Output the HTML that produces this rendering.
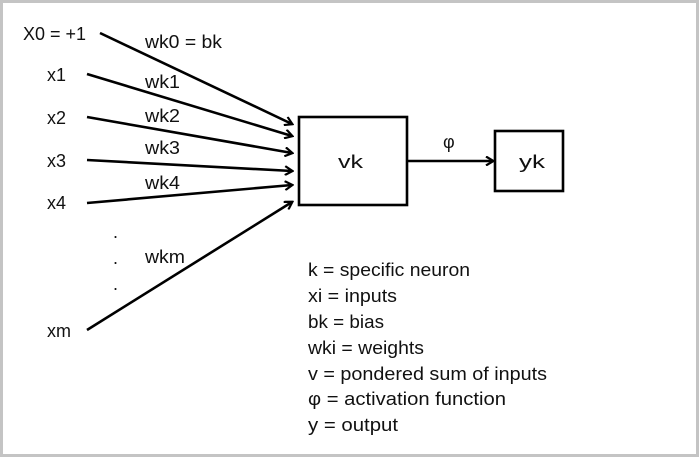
<!DOCTYPE html>
<html><head><meta charset="utf-8"><style>
html,body{margin:0;padding:0;background:#fff}
svg{display:block}
text{font-family:"Liberation Sans",sans-serif;font-size:18px;fill:#111}
</style></head><body>
<svg width="700" height="458" viewBox="0 0 700 458" xmlns="http://www.w3.org/2000/svg">
<defs>
<marker id="a" markerWidth="10" markerHeight="10" refX="8" refY="5" orient="auto" markerUnits="userSpaceOnUse">
<path d="M1,0.5 L8.5,5 L1,9.5" fill="none" stroke="#000" stroke-width="2.2"/>
</marker>
</defs>
<rect x="1.5" y="1.5" width="696" height="454" fill="#fff" stroke="#c4c4c4" stroke-width="3"/>
<g stroke="#000" stroke-width="2.6" fill="none">
<line x1="100" y1="33" x2="292" y2="124" marker-end="url(#a)"/>
<line x1="87" y1="74" x2="292" y2="136" marker-end="url(#a)"/>
<line x1="87" y1="117" x2="292" y2="153" marker-end="url(#a)"/>
<line x1="87" y1="160" x2="292" y2="171" marker-end="url(#a)"/>
<line x1="87" y1="203" x2="292" y2="185" marker-end="url(#a)"/>
<line x1="87" y1="330" x2="292" y2="202" marker-end="url(#a)"/>
<rect x="299" y="117" width="108" height="88"/>
<rect x="495" y="131" width="68" height="60"/>
<line x1="407" y1="161" x2="493" y2="161" marker-end="url(#a)"/>
</g>
<text x="23" y="40" textLength="63" lengthAdjust="spacingAndGlyphs">X0 = +1</text>
<text x="47" y="81" textLength="19" lengthAdjust="spacingAndGlyphs">x1</text>
<text x="47" y="124" textLength="19" lengthAdjust="spacingAndGlyphs">x2</text>
<text x="47" y="167" textLength="19" lengthAdjust="spacingAndGlyphs">x3</text>
<text x="47" y="209" textLength="19" lengthAdjust="spacingAndGlyphs">x4</text>
<text x="47" y="337" textLength="24" lengthAdjust="spacingAndGlyphs">xm</text>
<text x="145" y="48" textLength="77" lengthAdjust="spacingAndGlyphs">wk0 = bk</text>
<text x="145" y="88" textLength="35" lengthAdjust="spacingAndGlyphs">wk1</text>
<text x="145" y="122" textLength="35" lengthAdjust="spacingAndGlyphs">wk2</text>
<text x="145" y="154" textLength="35" lengthAdjust="spacingAndGlyphs">wk3</text>
<text x="145" y="189" textLength="35" lengthAdjust="spacingAndGlyphs">wk4</text>
<text x="145" y="263" textLength="40" lengthAdjust="spacingAndGlyphs">wkm</text>
<text x="113" y="238" font-size="14">.</text>
<text x="113" y="264" font-size="14">.</text>
<text x="113" y="290" font-size="14">.</text>
<text x="338" y="168" textLength="25" lengthAdjust="spacingAndGlyphs">vk</text>
<text x="519" y="168" textLength="26" lengthAdjust="spacingAndGlyphs">yk</text>
<text x="443" y="148">φ</text>
<text x="308" y="276" textLength="162" lengthAdjust="spacingAndGlyphs">k = specific neuron</text>
<text x="308" y="302" textLength="89" lengthAdjust="spacingAndGlyphs">xi = inputs</text>
<text x="308" y="328" textLength="76" lengthAdjust="spacingAndGlyphs">bk = bias</text>
<text x="308" y="354" textLength="116" lengthAdjust="spacingAndGlyphs">wki = weights</text>
<text x="308" y="380" textLength="239" lengthAdjust="spacingAndGlyphs">v = pondered sum of inputs</text>
<text x="308" y="405" textLength="198" lengthAdjust="spacingAndGlyphs">φ = activation function</text>
<text x="308" y="431" textLength="90" lengthAdjust="spacingAndGlyphs">y = output</text>
</svg>
</body></html>
